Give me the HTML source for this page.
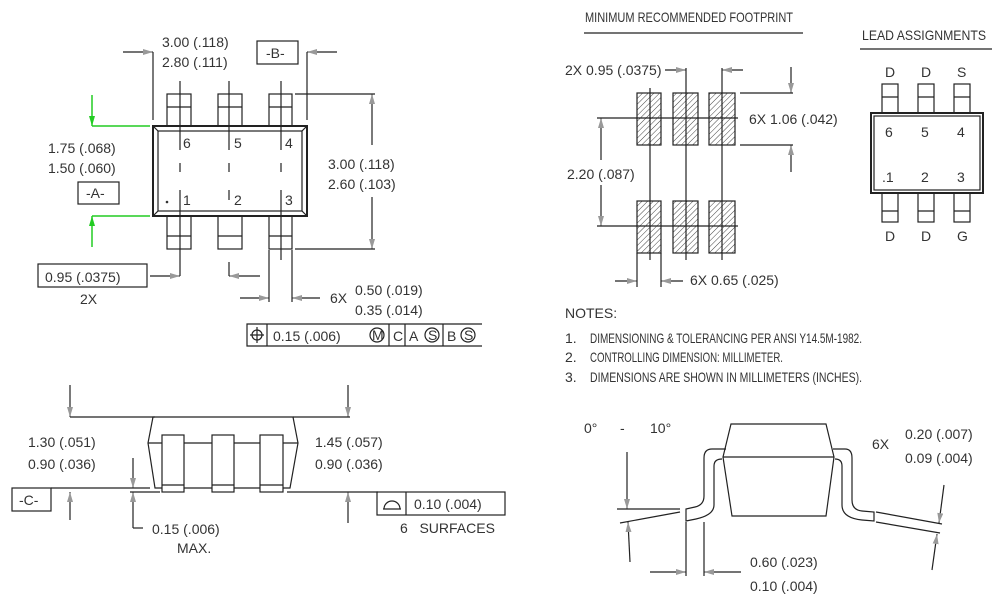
<!DOCTYPE html>
<html><head><meta charset="utf-8"><style>
html,body{margin:0;padding:0;background:#fff}
svg{display:block}
text{font-family:"Liberation Sans Narrow","Liberation Sans",sans-serif;fill:#333;font-size:14px}
</style></head><body>
<svg width="1000" height="600" viewBox="0 0 1000 600" xmlns="http://www.w3.org/2000/svg">
<defs>
<marker id="a" viewBox="0 0 10 6" refX="10" refY="3" markerWidth="10" markerHeight="6" markerUnits="userSpaceOnUse" orient="auto"><path d="M0,0 L10,3 L0,6 z" fill="#999"/></marker>
<marker id="g" viewBox="0 0 10 6" refX="10" refY="3" markerWidth="10" markerHeight="8" markerUnits="userSpaceOnUse" orient="auto"><path d="M0,0 L10,3 L0,6 z" fill="#2c2"/></marker>
<pattern id="h" width="4" height="4" patternUnits="userSpaceOnUse" patternTransform="rotate(45)"><line x1="0" y1="0" x2="0" y2="4" stroke="#444" stroke-width="1"/></pattern>
</defs>
<g stroke="#222" stroke-width="1.2" fill="none">
<!-- TOP VIEW -->
<rect x="153" y="126" width="154" height="90" stroke-width="2"/>
<rect x="158" y="131" width="144" height="80"/>
<line x1="153" y1="126" x2="158" y2="131"/><line x1="307" y1="126" x2="302" y2="131"/><line x1="153" y1="216" x2="158" y2="211"/><line x1="307" y1="216" x2="302" y2="211"/>
<rect x="167" y="94" width="24" height="32"/><rect x="218" y="94" width="24" height="32"/><rect x="269" y="94" width="23" height="32"/>
<line x1="167" y1="107" x2="191" y2="107"/><line x1="218" y1="107" x2="242" y2="107"/><line x1="269" y1="107" x2="292" y2="107"/>
<rect x="167" y="216" width="24" height="33"/><rect x="218" y="216" width="24" height="33"/><rect x="269" y="216" width="23" height="33"/>
<line x1="167" y1="236" x2="191" y2="236"/><line x1="218" y1="236" x2="242" y2="236"/><line x1="269" y1="236" x2="292" y2="236"/>
<path d="M180 81V150M229 81V150M281 81V150M180 163V172M229 163V172M281 163V172M180 190V276M229 190V200M281 190V260M229 262V276"/>
<!-- top dims -->
<path d="M153 52V120M307 52V120"/>
<line x1="123" y1="52" x2="153" y2="52" marker-end="url(#a)"/>
<line x1="337" y1="52" x2="307" y2="52" marker-end="url(#a)"/>
<rect x="257" y="41" width="41" height="23"/>
<path d="M295 94H375M295 249H375"/>
<line x1="372" y1="145" x2="372" y2="94" marker-end="url(#a)"/>
<line x1="372" y1="197" x2="372" y2="249" marker-end="url(#a)"/>
<rect x="78" y="182" width="41" height="22"/>
<rect x="38" y="264" width="109" height="23"/>
<line x1="150" y1="276" x2="180" y2="276" marker-end="url(#a)"/>
<line x1="260" y1="276" x2="229" y2="276" marker-end="url(#a)"/>
<path d="M269 250V302M292 250V302"/>
<line x1="240" y1="298" x2="269" y2="298" marker-end="url(#a)"/>
<line x1="320" y1="298" x2="292" y2="298" marker-end="url(#a)"/>
<path d="M482 324H247V346H482M267 324V346M389 324V346M405 324V346M443 324V346"/>
<circle cx="257" cy="335" r="5"/><path d="M250 335H264M257 327V343"/>
<circle cx="377" cy="335" r="7"/><circle cx="432" cy="335" r="7"/><circle cx="468" cy="335" r="7"/>
</g>
<g stroke="#2c2" stroke-width="1.5" fill="none">
<path d="M92 126H150M92 216H150"/>
<line x1="92" y1="95" x2="92" y2="126" marker-end="url(#g)"/>
<line x1="92" y1="247" x2="92" y2="216" marker-end="url(#g)"/>
</g>
<g>
<text x="162" y="47">3.00 (.118)</text><text x="162" y="67">2.80 (.111)</text>
<text x="266" y="58">-B-</text>
<text x="183" y="148">6</text><text x="234" y="148">5</text><text x="285" y="148">4</text>
<text x="183" y="205">1</text><text x="234" y="205">2</text><text x="285" y="205">3</text>
<circle cx="167" cy="202" r="1.3" fill="#333"/>
<text x="328" y="169">3.00 (.118)</text><text x="328" y="189">2.60 (.103)</text>
<text x="48" y="153">1.75 (.068)</text><text x="48" y="173">1.50 (.060)</text>
<text x="86" y="198">-A-</text>
<text x="45" y="282">0.95 (.0375)</text><text x="80" y="304">2X</text>
<text x="330" y="303">6X</text><text x="355" y="295">0.50 (.019)</text><text x="355" y="315">0.35 (.014)</text>
<text x="273" y="341">0.15 (.006)</text>
<text x="372" y="340" font-size="10">M</text><text x="393" y="341">C</text><text x="409" y="341">A</text>
<text x="428" y="340" font-size="10">S</text><text x="447" y="341">B</text><text x="464" y="340" font-size="10">S</text>
</g>
<!-- SIDE VIEW -->
<g stroke="#222" stroke-width="1.2" fill="none">
<path d="M70 417H155M293 417H350"/>
<line x1="70" y1="385" x2="70" y2="417" marker-end="url(#a)"/>
<line x1="348" y1="385" x2="348" y2="417" marker-end="url(#a)"/>
<path d="M153 417H293L298 443L290 488H155L148 443Z"/>
<path d="M148 443H298"/>
<rect x="162" y="435" width="22" height="57" fill="#fff"/><rect x="212" y="435" width="22" height="57" fill="#fff"/><rect x="260" y="435" width="23" height="57" fill="#fff"/>
<path d="M162 485H184M212 485H234M260 485H283"/>
<path d="M51 488H150M130 492H160M287 492H378"/>
<rect x="12" y="488" width="39" height="23"/>
<line x1="70" y1="520" x2="70" y2="492" marker-end="url(#a)"/>
<line x1="348" y1="523" x2="348" y2="492" marker-end="url(#a)"/>
<line x1="133" y1="458" x2="133" y2="488" marker-end="url(#a)"/>
<line x1="133" y1="528" x2="133" y2="492" marker-end="url(#a)"/>
<path d="M133 528H143"/>
<rect x="377" y="492" width="128" height="23"/><path d="M406 492V515"/>
<path d="M383 509H401M384 509A8 8 0 0 1 400 509"/>
</g>
<g>
<text x="28" y="447">1.30 (.051)</text><text x="28" y="469">0.90 (.036)</text>
<text x="315" y="447">1.45 (.057)</text><text x="315" y="469">0.90 (.036)</text>
<text x="19" y="505">-C-</text>
<text x="152" y="534">0.15 (.006)</text><text x="177" y="553">MAX.</text>
<text x="414" y="509">0.10 (.004)</text>
<text x="400" y="533">6&#160;&#160;&#160;SURFACES</text>
</g>
<!-- FOOTPRINT -->
<g stroke="#222" stroke-width="1.2" fill="none">
<path d="M584 33H803M860 49H992"/>
<g fill="url(#h)">
<rect x="637" y="93" width="24" height="52"/><rect x="673" y="93" width="25" height="52"/><rect x="709" y="93" width="26" height="52"/>
<rect x="637" y="201" width="24" height="52"/><rect x="673" y="201" width="25" height="52"/><rect x="709" y="201" width="26" height="52"/>
</g>
<path d="M650 88V260M686 68V260M722 68V260M597 118H738M597 226H738"/>
<line x1="601" y1="160" x2="601" y2="118" marker-end="url(#a)"/>
<line x1="601" y1="185" x2="601" y2="226" marker-end="url(#a)"/>
<line x1="665" y1="70" x2="686" y2="70" marker-end="url(#a)"/>
<line x1="743" y1="70" x2="722" y2="70" marker-end="url(#a)"/>
<path d="M740 93H793M740 145H793"/>
<line x1="791" y1="67" x2="791" y2="93" marker-end="url(#a)"/>
<line x1="791" y1="172" x2="791" y2="145" marker-end="url(#a)"/>
<path d="M637 253V287M661 253V287"/>
<line x1="615" y1="281" x2="637" y2="281" marker-end="url(#a)"/>
<line x1="683" y1="281" x2="661" y2="281" marker-end="url(#a)"/>
<!-- lead assignment -->
<rect x="871" y="113" width="112" height="80" stroke-width="2"/>
<rect x="874" y="116" width="106" height="74"/>
<rect x="882" y="84" width="16" height="29"/><rect x="918" y="84" width="16" height="29"/><rect x="954" y="84" width="16" height="29"/>
<path d="M882 97H898M918 97H934M954 97H970"/>
<rect x="882" y="193" width="16" height="29"/><rect x="918" y="193" width="16" height="29"/><rect x="954" y="193" width="16" height="29"/>
<path d="M882 211H898M918 211H934M954 211H970"/>
</g>
<g>
<text x="585" y="22" font-size="12" textLength="208" lengthAdjust="spacingAndGlyphs">MINIMUM   RECOMMENDED   FOOTPRINT</text>
<text x="862" y="40" font-size="13" textLength="124" lengthAdjust="spacingAndGlyphs">LEAD   ASSIGNMENTS</text>
<text x="565" y="75" font-size="12">2X  0.95 (.0375)</text>
<text x="749" y="124" font-size="12">6X  1.06 (.042)</text>
<text x="567" y="179" font-size="12">2.20 (.087)</text>
<text x="690" y="285" font-size="12">6X  0.65 (.025)</text>
<text x="885" y="77">D</text><text x="921" y="77">D</text><text x="957" y="77">S</text>
<text x="885" y="241">D</text><text x="921" y="241">D</text><text x="957" y="241">G</text>
<text x="885" y="137">6</text><text x="921" y="137">5</text><text x="957" y="137">4</text>
<text x="882" y="182">.1</text><text x="921" y="182">2</text><text x="957" y="182">3</text>
<text x="565" y="318" font-size="11">NOTES:</text>
<text x="565" y="343" font-size="11">1.</text><text x="590" y="343" font-size="11" textLength="272" lengthAdjust="spacingAndGlyphs">DIMENSIONING &amp; TOLERANCING  PER  ANSI  Y14.5M-1982.</text>
<text x="565" y="362" font-size="11">2.</text><text x="590" y="362" font-size="11" textLength="193" lengthAdjust="spacingAndGlyphs">CONTROLLING  DIMENSION: MILLIMETER.</text>
<text x="565" y="382" font-size="11">3.</text><text x="590" y="382" font-size="11" textLength="272" lengthAdjust="spacingAndGlyphs">DIMENSIONS  ARE  SHOWN  IN  MILLIMETERS  (INCHES).</text>
</g>
<!-- LEAD DETAIL -->
<g stroke="#222" stroke-width="1.2" fill="none">
<path d="M731 424H826L834 457L826 516H732L723 457Z"/>
<path d="M723 457H834"/>
<path d="M726 449H712Q704 449 704 458V496Q704 505 695 507L686 509V521L696 519Q714 515 714 505V466Q714 459 722 459"/>
<path d="M833 449H845Q852 449 852 458V500Q852 510 862 511L874 512V521L862 520Q842 518 842 505V466Q842 459 835 459"/>
<path d="M617 509H680M620 523L680 512"/>
<line x1="627" y1="452" x2="627" y2="509" marker-end="url(#a)"/>
<line x1="630" y1="562" x2="628" y2="522" marker-end="url(#a)"/>
<path d="M876 512L942 524M876 522L940 533"/>
<line x1="944" y1="485" x2="939" y2="523" marker-end="url(#a)"/>
<line x1="932" y1="570" x2="937" y2="534" marker-end="url(#a)"/>
<path d="M686 522V576M704 522V576"/>
<line x1="650" y1="572" x2="686" y2="572" marker-end="url(#a)"/>
<line x1="741" y1="572" x2="704" y2="572" marker-end="url(#a)"/>
</g>
<g>
<text x="584" y="433">0°</text><text x="620" y="433">-</text><text x="650" y="433">10°</text>
<text x="872" y="449">6X</text>
<text x="905" y="439">0.20 (.007)</text><text x="905" y="463">0.09 (.004)</text>
<text x="750" y="567">0.60 (.023)</text><text x="750" y="591">0.10 (.004)</text>
</g>
</svg>
</body></html>
